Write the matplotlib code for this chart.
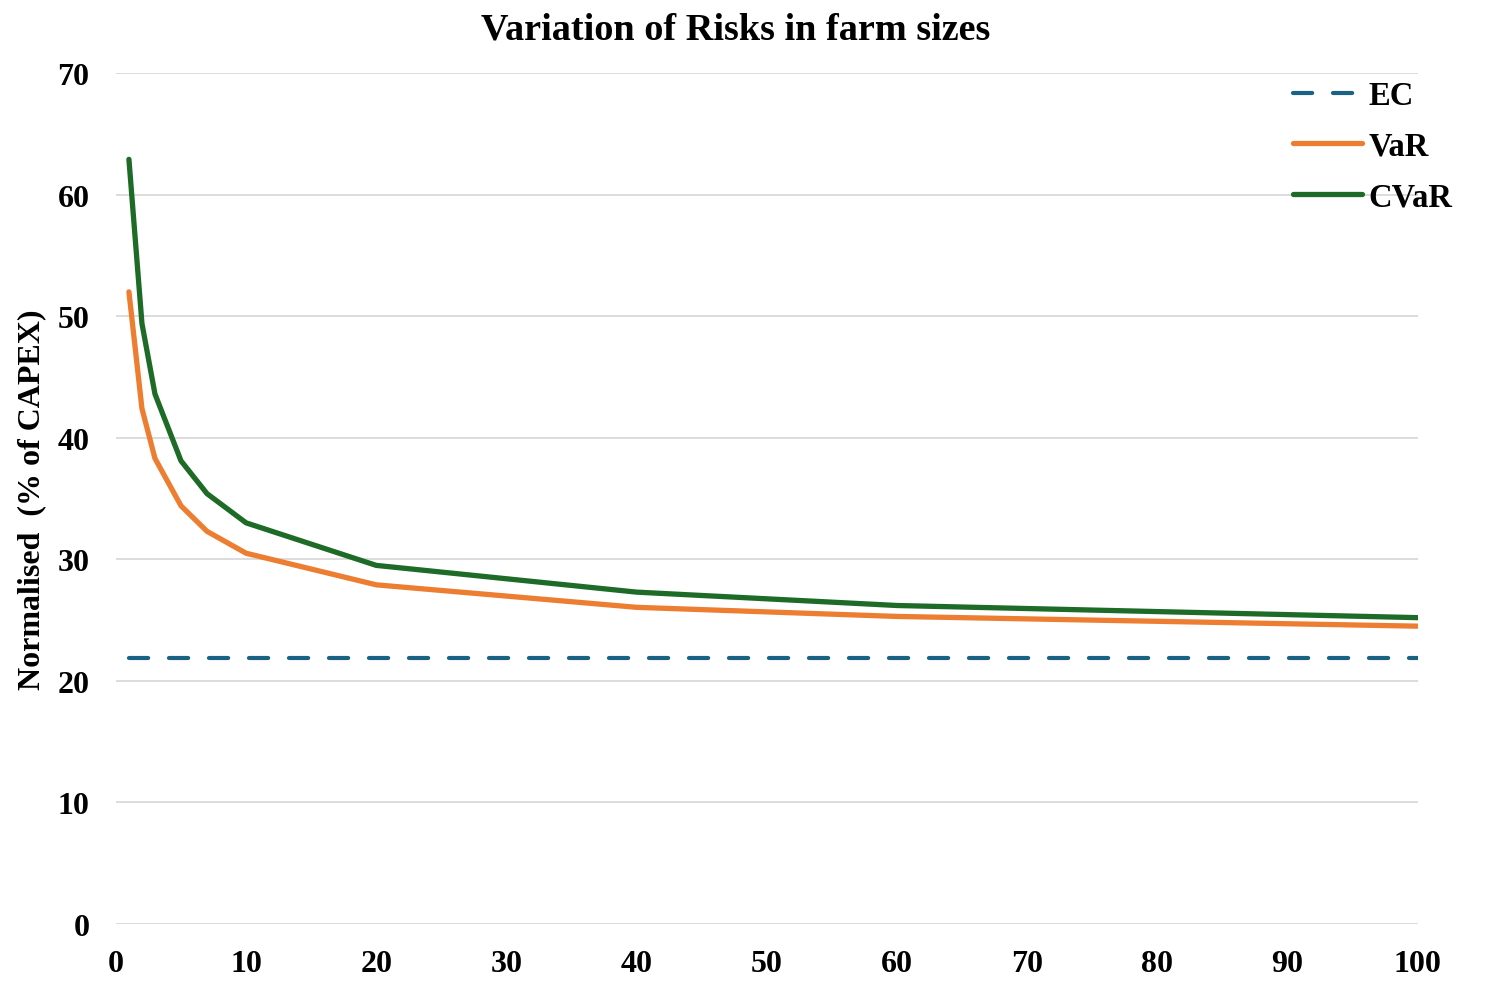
import numpy as np
import matplotlib.pyplot as plt

# farm size vs normalised risk (% of CAPEX)
farm_size = [1, 2, 3, 5, 7, 10, 20, 40, 60, 100]
ec = [21.9, 21.9, 21.9, 21.9, 21.9, 21.9, 21.9, 21.9, 21.9, 21.9]
var = [52.0, 42.4, 38.3, 34.4, 32.3, 30.5, 27.9, 26.05, 25.3, 24.5]
cvar = [62.9, 49.4, 43.6, 38.1, 35.4, 33.0, 29.5, 27.3, 26.2, 25.2]

x_ticks = list(range(0, 101, 10))
y_ticks = list(range(0, 71, 10))

plt.rcParams['font.family'] = ['Liberation Serif', 'DejaVu Serif']
plt.rcParams['font.weight'] = 'bold'

fig = plt.figure(figsize=(14.86, 9.87), dpi=100)
ax = fig.add_axes([0.078, 0.0628, 0.876, 0.8622])

ax.plot(farm_size, ec, color='#1B6184', lw=3, linestyle=(0, (4.6, 5.0)),
        dash_capstyle='round', label='EC')
ax.plot(farm_size, var, color='#ED7D31', lw=3.8, solid_capstyle='round', label='VaR')
ax.plot(farm_size, cvar, color='#1D6B27', lw=3.8, solid_capstyle='round', label='CVaR')

ax.set_xlim(0, 100)
ax.set_ylim(0, 70)
ax.set_xticks(x_ticks)
ax.set_yticks(y_ticks)
ax.grid(axis='y', color='#D9D9D9', lw=1.3)
ax.set_axisbelow(True)
for s in ax.spines.values():
    s.set_visible(False)
ax.tick_params(axis='both', length=0, labelsize=23)
ax.tick_params(axis='x', pad=18)
ax.tick_params(axis='y', pad=19)

fig.suptitle('Variation of Risks in farm sizes', x=0.495, y=0.987, fontsize=27.5,
             fontweight='bold', va='top')
ax.set_ylabel('Normalised  (% of CAPEX)', fontsize=23, fontweight='bold', labelpad=8)

leg = ax.legend(loc='upper right', bbox_to_anchor=(1.049, 1.026), frameon=False,
                fontsize=23.5, handlelength=2.1, handletextpad=0.2, labelspacing=0.6)

plt.savefig('out.png', dpi=100)
